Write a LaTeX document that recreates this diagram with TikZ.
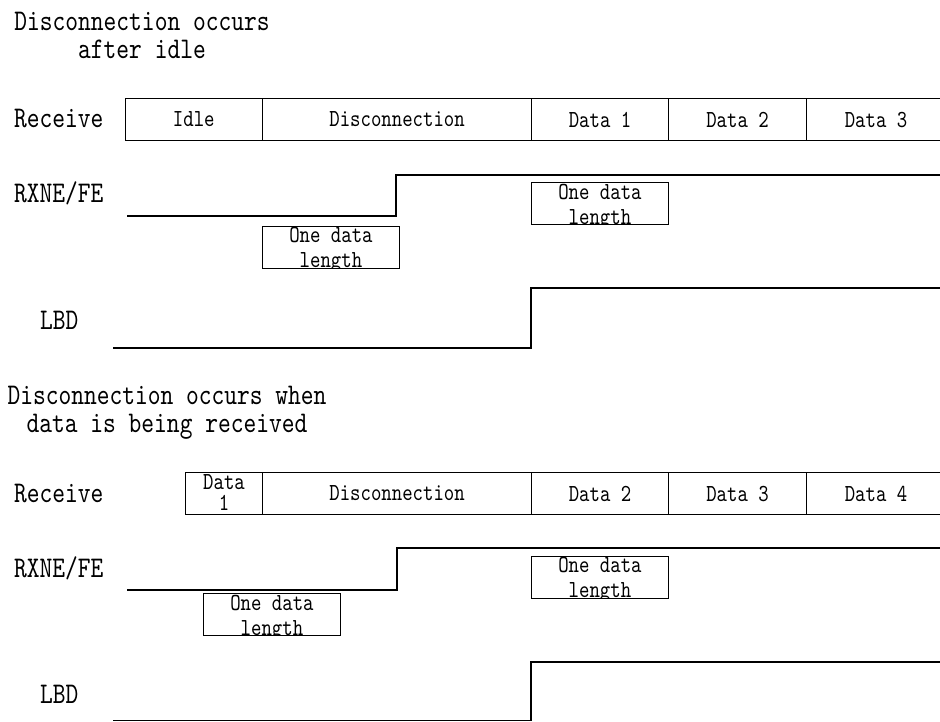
\documentclass[tikz,border=0pt]{standalone}
\usepackage{fontspec}
\setmonofont[FakeStretch=0.81]{lmmono10-regular.otf}
\begin{document}
\begin{tikzpicture}[x=1pt,y=-1pt,
  big/.style={font=\ttfamily\fontsize{30pt}{28pt}\selectfont, inner sep=0pt},
  small/.style={font=\ttfamily\fontsize{24.5pt}{25pt}\selectfont, inner sep=0pt},
  cell/.style={draw, line width=1.1pt, small, minimum height=42pt, anchor=north west, inner sep=0pt},
  wave/.style={line width=1.3pt},
  onebox/.style={draw, line width=0.9pt, minimum width=137pt, minimum height=42pt,
    anchor=north west, inner sep=0pt,
    path picture={\node[small, align=center, anchor=north]
      at ([yshift=-1pt]path picture bounding box.north) {One data\\length};}},
  datacell/.style={cell, path picture={\node[small, align=center, anchor=north,
      font=\ttfamily\fontsize{24.5pt}{21pt}\selectfont]
      at ([yshift=1.5pt]path picture bounding box.north) {Data\\1};}}
]
\useasboundingbox (0,0) rectangle (940,722);

% ---------- Part 1 ----------
\node[big, align=center, anchor=north] (t1) at (142,12) {Disconnection occurs\\after idle};

\node[big, anchor=base west] (lr1) at (14,128) {Receive};
\node[big, anchor=base west] (lx1) at (14,203) {RXNE/FE};
\node[big, anchor=base west] (ll1) at (40,329) {LBD};

\node[cell, minimum width=137.5pt] (a1) at (124.5,98) {Idle};
\node[cell, minimum width=269pt]   (a2) at (262,98)   {Disconnection};
\node[cell, minimum width=137pt]   (a3) at (531,98)   {Data 1};
\node[cell, minimum width=138pt]   (a4) at (668,98)   {Data 2};
\node[cell, minimum width=139pt]   (a5) at (806,98)   {Data 3};

\coordinate (x1s) at (127,216);
\coordinate (x1a) at (396,216);
\coordinate (x1b) at (396,175);
\coordinate (x1e) at (945,175);
\draw[wave] (x1s) -- (x1a) -- (x1b) -- (x1e);

\node[onebox] (o1) at (262,225.7) {};
\node[onebox] (o2) at (531,182.3) {};

\coordinate (l1s) at (113,348);
\coordinate (l1a) at (531,348);
\coordinate (l1b) at (531,288);
\coordinate (l1e) at (945,288);
\draw[wave] (l1s) -- (l1a) -- (l1b) -- (l1e);

% ---------- Part 2 ----------
\node[big, align=center, anchor=north] (t2) at (167,386) {Disconnection occurs when\\data is being received};

\node[big, anchor=base west] (lr2) at (14,502) {Receive};
\node[big, anchor=base west] (lx2) at (14,577) {RXNE/FE};
\node[big, anchor=base west] (ll2) at (40,703) {LBD};

\node[datacell, minimum width=77pt] (b1) at (185,472) {};
\node[cell, minimum width=269pt]   (b2) at (262,472)   {Disconnection};
\node[cell, minimum width=137pt]   (b3) at (531,472)   {Data 2};
\node[cell, minimum width=138pt]   (b4) at (668,472)   {Data 3};
\node[cell, minimum width=139pt]   (b5) at (806,472)   {Data 4};

\coordinate (x2s) at (127,590);
\coordinate (x2a) at (397,590);
\coordinate (x2b) at (397,548);
\coordinate (x2e) at (945,548);
\draw[wave] (x2s) -- (x2a) -- (x2b) -- (x2e);

\node[onebox] (o3) at (203,593.3) {};
\node[onebox] (o4) at (531,555.7) {};

\coordinate (l2s) at (113,720.5);
\coordinate (l2a) at (531,720.5);
\coordinate (l2b) at (531,662);
\coordinate (l2e) at (945,662);
\draw[wave] (l2s) -- (l2a) -- (l2b) -- (l2e);
\end{tikzpicture}
\end{document}
